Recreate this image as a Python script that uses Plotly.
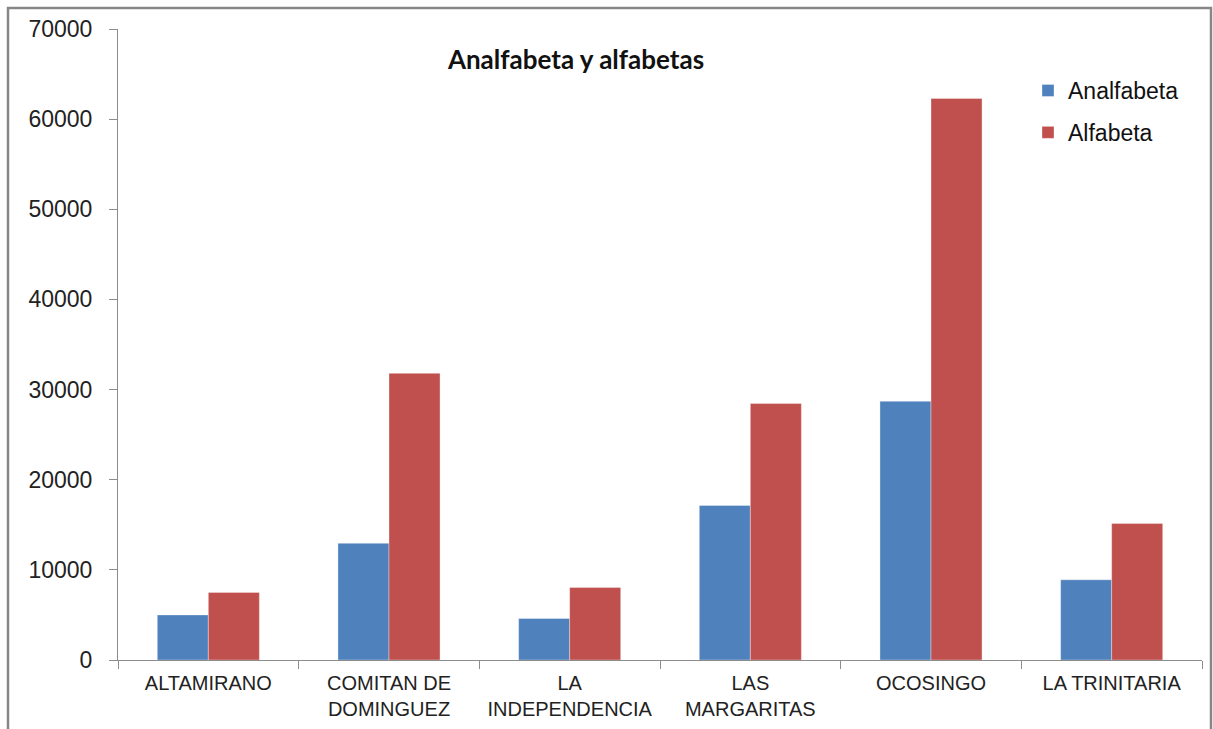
import plotly.graph_objects as go

# Municipios y población por condición de alfabetismo
municipios = [
    "ALTAMIRANO",
    "COMITAN DE<br>DOMINGUEZ",
    "LA<br>INDEPENDENCIA",
    "LAS<br>MARGARITAS",
    "OCOSINGO",
    "LA TRINITARIA",
]
analfabeta = [5000, 12950, 4600, 17150, 28700, 8900]
alfabeta = [7500, 31800, 8050, 28450, 62300, 15150]

y_ticks = [0, 10000, 20000, 30000, 40000, 50000, 60000, 70000]

AZUL = "#4F81BD"
ROJO = "#C0504D"
EJE = "#8C8C8C"

fig = go.Figure()
fig.add_trace(go.Bar(
    x=municipios, y=analfabeta, name="Analfabeta",
    marker=dict(color=AZUL, line=dict(color="rgba(255,255,255,0.35)", width=1)),
    legendgroup="a",
))
fig.add_trace(go.Bar(
    x=municipios, y=alfabeta, name="Alfabeta",
    marker=dict(color=ROJO, line=dict(color="rgba(255,255,255,0.35)", width=1)),
    legendgroup="b",
))

L, R, T, B = 118, 11, 29, 69
W, H = 1213, 729
pw, ph = W - L - R, H - T - B


def px_x(px):
    return (px - L) / pw


def px_y(py):
    return (H - B - py) / ph


fig.update_layout(
    width=W, height=H,
    margin=dict(l=L, r=R, t=T, b=B, pad=0, autoexpand=False),
    paper_bgcolor="white", plot_bgcolor="white",
    barmode="group", bargap=0.435, bargroupgap=0,
    font=dict(family="Liberation Sans, Arial, sans-serif", color="#222222"),
    title=dict(
        text="<b>Analfabeta y alfabetas</b>",
        font=dict(family="Lato, Open Sans, sans-serif", size=26, color="#111111"),
        x=px_x(576), xref="paper", xanchor="center",
        y=1 - 60 / H, yref="container", yanchor="middle",
    ),
    legend=dict(
        x=px_x(1028), y=px_y(69), xanchor="left", yanchor="top",
        font=dict(size=23, color="#111111"),
        tracegroupgap=9, bgcolor="rgba(0,0,0,0)",
        itemclick=False,
    ),
    showlegend=True,
)

fig.update_xaxes(
    type="category",
    showline=True, linecolor=EJE, linewidth=1,
    ticks="outside", tickson="boundaries", ticklen=8, tickcolor=EJE,
    tickfont=dict(size=20, color="#222222"),
    tickangle=0, automargin=False,
    ticklabelstandoff=5,
    showgrid=False, zeroline=False,
)
fig.update_yaxes(
    range=[0, 70000], tickvals=y_ticks, ticktext=[str(v) for v in y_ticks],
    showline=True, linecolor=EJE, linewidth=1,
    ticks="outside", ticklen=8, tickcolor=EJE,
    tickfont=dict(size=23, color="#222222"),
    ticklabelstandoff=12, automargin=False,
    showgrid=False, zeroline=False,
)

# Marco exterior del gráfico
fig.add_shape(
    type="rect", xref="paper", yref="paper",
    x0=px_x(8), x1=px_x(1211), y0=px_y(740), y1=px_y(8),
    line=dict(color="#878787", width=2.5), fillcolor="rgba(0,0,0,0)",
    layer="above",
)

fig.write_html("out.html")
